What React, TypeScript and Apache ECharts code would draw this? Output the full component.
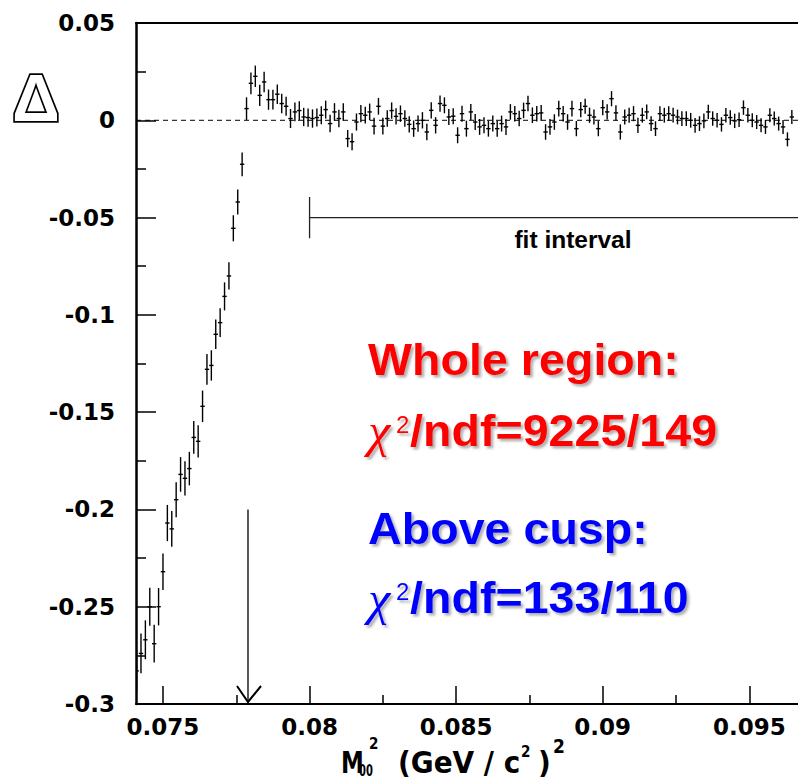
import React, { useEffect, useRef } from "react";
import * as echarts from "echarts";

// Histogram binning of the residuals Δ versus M00² (GeV/c²)²
const BIN_START = 0.0741;
const BIN_WIDTH = 0.00015;

const DELTA_VALUES = [
  // below the cusp
  -0.283, -0.274, -0.267, -0.25, -0.269, -0.25, -0.232, -0.207, -0.21, -0.195,
  -0.182, -0.184, -0.179, -0.163, -0.165, -0.147, -0.128, -0.126, -0.11, -0.104,
  -0.0905, -0.08, -0.0555, -0.042, -0.0226,
  // above the cusp
  0.006, 0.019, 0.0226, 0.0128, 0.0197, 0.0106, 0.0106, 0.0134, 0.0086, 0.0072,
  0.0009, 0.0043, 0.005, 0.0017, 0.0014, 0.0009, 0.0014, 0.0026, 0.0055, -0.0017,
  0.0043, 0.0009, 0.0043, -0.0094, -0.011, -0.0009, 0.0034, 0.0026, 0.0043, -0.003,
  0.0072, -0.003, 0.0009, 0.005, 0.002,
  0.0034, 0.0009, -0.0021, -0.0043, -0.0017, 0, -0.006, 0.0051, -0.0026, 0.0086,
  0.0077, 0.0017, 0.0021, -0.0077, 0.0034, -0.0043, 0.0043, -0.0009, -0.0034, -0.0026,
  -0.0043, -0.0017, -0.0043, -0.0017, -0.0034, 0.0043, 0.0034, 0.0009, 0.0051, 0.0086,
  0.0026, 0.0034, 0.0038, -0.006, -0.0034, -0.0009, 0.006, 0.0034, -0.0009, 0.006,
  -0.0043, 0.0055, 0.0072, 0.0026, 0.0017, -0.0043, 0.0065, 0.0043, 0.0111, 0.0038,
  -0.006, 0.0017, 0.0026, 0.0034, -0.0026, 0.0026, 0.0043, -0.0017, -0.0043, 0.0034,
  0.0026, 0.0034, 0.0026, 0.0017, 0.0009, 0.0009, 0, -0.0026, -0.0017, -0.0003,
  0.0043, 0.0009, 0, -0.0021, 0.0026, 0.0014, -0.0003, 0.0003, 0.0065, 0.0026,
  0, -0.0009, -0.0026, -0.0034, 0.0026, 0.0009, -0.0017, -0.0034, -0.0098, 0.0017,
];

const DELTA_ERRORS = [
  0.0105, 0.0102, 0.01, 0.0098, 0.0097, 0.0096, 0.0094, 0.0093, 0.0092, 0.009,
  0.0089, 0.0088, 0.0086, 0.0084, 0.0083, 0.0081, 0.0079, 0.0078, 0.0076, 0.0074,
  0.0072, 0.007, 0.0067, 0.0064, 0.0061,
  0.0058, 0.0056, 0.0055, 0.0054, 0.0053, 0.0052, 0.0051, 0.005, 0.005, 0.0049,
  0.0049, 0.0048, 0.0048, 0.0047, 0.0047, 0.0047, 0.0046, 0.0046, 0.0046, 0.0045,
  0.0045, 0.0045, 0.0045, 0.0044, 0.0044, 0.0044, 0.0044, 0.0043, 0.0043, 0.0043,
  0.0043, 0.0043, 0.0042, 0.0042, 0.0042,
  0.0042, 0.0042, 0.0042, 0.0042, 0.0042, 0.0042, 0.0042, 0.0042, 0.0042, 0.0042,
  0.0041, 0.0041, 0.0041, 0.0041, 0.0041, 0.0041, 0.0041, 0.0041, 0.0041, 0.0041,
  0.0041, 0.0041, 0.0041, 0.0041, 0.0041, 0.004, 0.004, 0.004, 0.004, 0.004,
  0.004, 0.004, 0.004, 0.004, 0.004, 0.004, 0.004, 0.004, 0.004, 0.004,
  0.0039, 0.0039, 0.0039, 0.0039, 0.0039, 0.0039, 0.0039, 0.0039, 0.0039, 0.0039,
  0.0039, 0.0039, 0.0039, 0.0039, 0.0039, 0.0038, 0.0038, 0.0038, 0.0038, 0.0038,
  0.0038, 0.0038, 0.0038, 0.0038, 0.0038, 0.0038, 0.0038, 0.0038, 0.0038, 0.0038,
  0.0037, 0.0037, 0.0037, 0.0037, 0.0037, 0.0037, 0.0037, 0.0037, 0.0037, 0.0037,
  0.0036, 0.0036, 0.0036, 0.0036, 0.0036, 0.0036, 0.0036, 0.0036, 0.0036, 0.0036,
];

const X_MIN = 0.07408;
const X_MAX = 0.09666;
const X_MAJOR_TICKS = [0.075, 0.08, 0.085, 0.09, 0.095];
const X_MINOR_TICKS = [0.0775, 0.0825, 0.0875, 0.0925];
const Y_MIN = -0.3;
const Y_MAX = 0.05;
const Y_STEP = 0.05;

const CUSP = 0.0779;
const CUSP_ARROW = [CUSP, -0.2, -0.3];
const FIT_START = 0.08;
const FIT_LEVEL = -0.05;
const FIT_CAP = 0.0106;

const LABEL_FONT = "DejaVu Sans";
const BIG_FONT = "Liberation Sans";

function bigText(text: string, x: number, y: number, fill: string, extra: any = {}) {
  return {
    type: "text",
    x,
    y,
    z: 100,
    scaleX: extra.scaleX ?? 1.06,
    style: {
      text,
      fill,
      font: extra.font ?? `bold 44px "${BIG_FONT}"`,
      textAlign: "left",
      textVerticalAlign: "middle",
      align: "left",
      verticalAlign: "middle",
      textShadowColor: "rgba(100,100,100,0.5)",
      textShadowBlur: 2,
      textShadowOffsetX: 2.5,
      textShadowOffsetY: 2.5,
    },
  };
}

function plainText(text: string, x: number, y: number, font: string, extra: any = {}) {
  return {
    type: "text",
    x,
    y,
    z: 100,
    scaleX: extra.scaleX ?? 1,
    style: {
      text,
      fill: extra.fill ?? "#000",
      font,
      textAlign: extra.align ?? "left",
      align: extra.align ?? "left",
      textVerticalAlign: "middle",
      verticalAlign: "middle",
      stroke: extra.stroke,
      lineWidth: extra.lineWidth,
    },
  };
}

export default function App() {
  const ref = useRef<HTMLDivElement>(null);

  useEffect(() => {
    if (!ref.current) return;
    const chart = echarts.init(ref.current, null, { renderer: "svg" });

    const points = DELTA_VALUES.map((v, i) => [BIN_START + i * BIN_WIDTH, v, DELTA_ERRORS[i]]);

    const labelStyle = {
      color: "#000",
      fontFamily: LABEL_FONT,
      fontWeight: "bold",
      fontSize: 23,
    };

    const option: any = {
      animation: false,
      backgroundColor: "#fff",
      grid: { left: 136, right: 0, top: 23, bottom: 76, containLabel: false },
      xAxis: [
        {
          type: "value",
          min: X_MIN,
          max: X_MAX,
          position: "bottom",
          axisLine: { show: true, onZero: false, lineStyle: { color: "#000", width: 2.2 } },
          axisTick: {
            show: true,
            inside: true,
            length: 18,
            customValues: X_MAJOR_TICKS,
            lineStyle: { color: "#000", width: 1.5 },
          },
          axisLabel: {
            ...labelStyle,
            margin: 11,
            customValues: X_MAJOR_TICKS,
            formatter: (v: number) => String(+v.toFixed(4)),
          },
          splitLine: { show: false },
        },
        {
          type: "value",
          min: X_MIN,
          max: X_MAX,
          position: "bottom",
          axisLine: { show: false, onZero: false },
          axisTick: {
            show: true,
            inside: true,
            length: 9,
            customValues: X_MINOR_TICKS,
            lineStyle: { color: "#000", width: 1.5 },
          },
          axisLabel: { show: false },
          splitLine: { show: false },
        },
        {
          type: "value",
          min: X_MIN,
          max: X_MAX,
          position: "top",
          axisLine: { show: true, onZero: false, lineStyle: { color: "#000", width: 2.2 } },
          axisTick: { show: false },
          axisLabel: { show: false },
          splitLine: { show: false },
        },
      ],
      yAxis: {
        type: "value",
        min: Y_MIN,
        max: Y_MAX,
        interval: Y_STEP,
        axisLine: { show: true, onZero: false, lineStyle: { color: "#000", width: 2.5 } },
        axisTick: { show: true, inside: true, length: 20, lineStyle: { color: "#000", width: 1.5 } },
        minorTick: { show: true, splitNumber: 2, length: 10, lineStyle: { color: "#000", width: 1.5 } },
        axisLabel: {
          ...labelStyle,
          margin: 21,
          formatter: (v: number) => String(+v.toFixed(3)),
        },
        splitLine: { show: false },
        minorSplitLine: { show: false },
      },
      series: [
        {
          type: "line",
          xAxisIndex: 0,
          data: [
            [X_MIN, 0],
            [X_MAX, 0],
          ],
          symbol: "none",
          silent: true,
          z: 1,
          lineStyle: { color: "#000", width: 1, type: [5, 4] },
        },
        {
          type: "line",
          xAxisIndex: 0,
          data: [
            [FIT_START, FIT_LEVEL],
            [X_MAX, FIT_LEVEL],
          ],
          symbol: "none",
          silent: true,
          lineStyle: { color: "#222", width: 1.3 },
        },
        {
          type: "line",
          xAxisIndex: 0,
          data: [
            [FIT_START, FIT_LEVEL + FIT_CAP],
            [FIT_START, FIT_LEVEL - FIT_CAP],
          ],
          symbol: "none",
          silent: true,
          lineStyle: { color: "#222", width: 1.3 },
        },
        {
          type: "custom",
          xAxisIndex: 0,
          clip: true,
          silent: true,
          z: 5,
          data: points,
          encode: { x: 0, y: 1 },
          renderItem: (_params: any, api: any) => {
            const x = api.value(0);
            const y = api.value(1);
            const e = api.value(2);
            const c = api.coord([x, y]);
            const top = api.coord([x, y + e]);
            const bot = api.coord([x, y - e]);
            const l = api.coord([x - BIN_WIDTH / 2, y]);
            const r = api.coord([x + BIN_WIDTH / 2, y]);
            return {
              type: "group",
              children: [
                {
                  type: "line",
                  shape: { x1: c[0], y1: top[1], x2: c[0], y2: bot[1] },
                  style: { stroke: "#000", lineWidth: 1.4 },
                },
                {
                  type: "line",
                  shape: { x1: l[0], y1: c[1], x2: r[0], y2: c[1] },
                  style: { stroke: "#000", lineWidth: 1.4 },
                },
              ],
            };
          },
        },
        {
          type: "custom",
          xAxisIndex: 0,
          silent: true,
          z: 4,
          data: [CUSP_ARROW],
          encode: { x: 0, y: 1 },
          renderItem: (_params: any, api: any) => {
            const x = api.value(0);
            const p1 = api.coord([x, api.value(1)]);
            const p2 = api.coord([x, api.value(2)]);
            return {
              type: "group",
              children: [
                {
                  type: "line",
                  shape: { x1: p1[0], y1: p1[1], x2: p2[0], y2: p2[1] - 1 },
                  style: { stroke: "#000", lineWidth: 1.3 },
                },
                {
                  type: "polyline",
                  shape: {
                    points: [
                      [p2[0] - 11, p2[1] - 18],
                      [p2[0], p2[1] - 2],
                      [p2[0] + 13, p2[1] - 18],
                    ],
                  },
                  style: { stroke: "#000", lineWidth: 2, fill: "none" },
                },
              ],
            };
          },
        },
      ],
      graphic: [
        // y-axis title Δ
        plainText("Δ", 36, 98, `bold 66px "${BIG_FONT}"`, {
          align: "center",
          fill: "#fff",
          stroke: "#000",
          lineWidth: 3.4,
        }),
        // fit interval label
        plainText("fit interval", 573, 239, `bold 24.5px "${BIG_FONT}"`, { align: "center" }),
        // x-axis title: M00² (GeV / c²)²
        plainText("M", 341, 762, `bold 31px "${LABEL_FONT}"`, { scaleX: 0.74 }),
        plainText("00", 359, 771, `bold 16px "${LABEL_FONT}"`, { scaleX: 0.62 }),
        plainText("2", 369, 743, `bold 16px "${LABEL_FONT}"`, { scaleX: 0.85 }),
        plainText("(GeV / c", 398, 762, `bold 31px "${LABEL_FONT}"`, { scaleX: 0.9 }),
        plainText("2", 521, 751, `bold 16px "${LABEL_FONT}"`, { scaleX: 0.85 }),
        plainText(")", 538, 762, `bold 31px "${LABEL_FONT}"`, { scaleX: 0.9 }),
        plainText("2", 553, 746, `bold 19px "${LABEL_FONT}"`, { scaleX: 0.9 }),
        // annotations
        bigText("Whole region:", 368, 360, "#ff0000"),
        bigText("χ", 368, 431, "#ff0000", { font: `italic 48px "Liberation Serif"`, scaleX: 1.05 }),
        bigText("2", 396, 424, "#ff0000", { font: `24px "${BIG_FONT}"`, scaleX: 1 }),
        bigText("/ndf=9225/149", 410, 431, "#ff0000"),
        bigText("Above cusp:", 368, 529, "#0000ff"),
        bigText("χ", 368, 599, "#0000ff", { font: `italic 48px "Liberation Serif"`, scaleX: 1.05 }),
        bigText("2", 396, 591, "#0000ff", { font: `24px "${BIG_FONT}"`, scaleX: 1 }),
        bigText("/ndf=133/110", 410, 598, "#0000ff"),
      ],
    };

    chart.setOption(option);
    return () => chart.dispose();
  }, []);

  return (
    <div
      ref={ref}
      style={{ position: "absolute", left: 0, top: 0, width: 798, height: 780, background: "#fff" }}
    />
  );
}
